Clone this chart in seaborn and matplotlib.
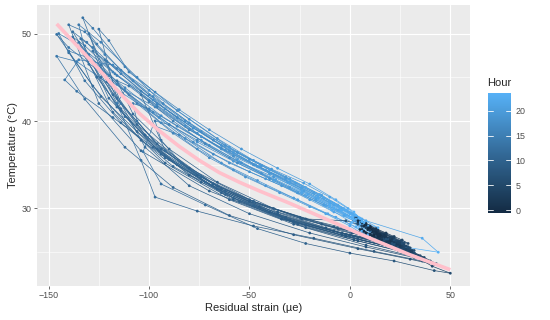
import numpy as np
import pandas as pd
import matplotlib
matplotlib.use("Agg")
import matplotlib.pyplot as plt
import seaborn as sns
from matplotlib.collections import LineCollection
from matplotlib.colors import LinearSegmentedColormap, Normalize
from matplotlib.cm import ScalarMappable

# hourly readings, one list per day (strain in µe, temperature in °C)
hours = list(range(24))

day1_strain = [6, 10, 14, 18, 22, 25, 27, 17, -12, -45, -76, -102, -121, -133, -128, -112, -93, -74, -56, -39, -23, -10, -1, 4]
day1_temp = [28.4, 27.9, 27.4, 27.0, 26.6, 26.2, 26.0, 26.4, 27.8, 30.2, 33.8, 38.4, 44.5, 51.8, 50.6, 46.2, 42.0, 38.8, 36.4, 34.5, 32.9, 31.3, 30.0, 29.0]

day2_strain = [2, 7, 12, 17, 21, 25, 28, 20, -8, -40, -74, -104, -128, -146, -140, -120, -98, -78, -60, -42, -26, -12, -2, 5]
day2_temp = [28.6, 28.0, 27.4, 26.9, 26.4, 26.0, 25.7, 26.1, 27.4, 29.6, 33.0, 37.8, 44.0, 49.9, 48.4, 44.8, 41.0, 37.6, 35.2, 33.4, 31.8, 30.3, 29.2, 28.4]

day3_strain = [12, 18, 24, 29, 34, 38, 42, 30, 4, -28, -60, -88, -112, -132, -146, -136, -116, -95, -76, -58, -40, -24, -10, 0]
day3_temp = [27.0, 26.2, 25.5, 24.9, 24.4, 24.0, 23.6, 24.2, 25.4, 27.0, 29.2, 32.4, 37.0, 42.5, 47.4, 46.8, 43.6, 40.4, 37.6, 35.4, 33.5, 31.8, 30.2, 29.0]

day4_strain = [3, 10, 17, 24, 31, 37, 43, 36, 12, -18, -48, -76, -97, -104, -116, -112, -97, -80, -62, -45, -30, -16, -5, 3]
day4_temp = [29.0, 27.9, 26.9, 26.0, 25.1, 24.4, 23.7, 24.0, 25.1, 26.6, 28.0, 29.7, 31.3, 35.5, 42.0, 43.5, 41.6, 39.0, 36.7, 34.8, 33.0, 31.4, 30.1, 29.0]

day5_strain = [8, 14, 21, 28, 35, 41, 50, 42, 22, 0, -22, -46, -72, -94, -103, -98, -85, -68, -50, -34, -20, -8, 2, 8]
day5_temp = [28.0, 27.0, 26.0, 25.0, 24.2, 23.4, 22.6, 22.9, 24.0, 24.9, 26.0, 27.7, 30.4, 32.8, 36.5, 39.5, 38.4, 36.2, 34.2, 32.6, 31.0, 29.6, 28.6, 27.8]

day6_strain = [10, 14, 18, 22, 25, 28, 30, 22, -2, -32, -62, -92, -118, -136, -142, -135, -118, -100, -80, -60, -40, -22, -8, 3]
day6_temp = [27.6, 27.1, 26.7, 26.3, 26.0, 25.7, 25.5, 25.9, 27.0, 29.0, 32.0, 36.0, 40.4, 43.4, 44.7, 47.0, 46.4, 43.5, 40.2, 37.0, 34.4, 32.4, 30.6, 29.2]

day7_strain = [6, 10, 14, 18, 22, 25, 27, 19, -6, -36, -66, -94, -116, -125, -120, -110, -97, -85, -70, -54, -36, -20, -7, 2]
day7_temp = [28.4, 28.0, 27.5, 27.1, 26.7, 26.3, 26.1, 26.5, 27.7, 29.6, 32.6, 36.8, 42.6, 50.5, 49.2, 45.6, 43.3, 41.3, 39.0, 36.8, 34.6, 32.8, 31.0, 29.6]

day8_strain = [3, 8, 13, 18, 22, 26, 29, 22, 0, -25, -48, -68, -84, -94, -97, -90, -76, -60, -44, -30, -17, -6, 3, 9]
day8_temp = [28.9, 28.3, 27.7, 27.2, 26.8, 26.4, 26.0, 26.4, 27.6, 29.0, 30.8, 32.8, 35.2, 37.8, 40.0, 39.6, 37.8, 35.8, 34.0, 32.4, 31.0, 29.8, 28.8, 28.0]

day9_strain = [9, 13, 17, 21, 24, 27, 29, 21, -4, -36, -68, -96, -118, -128, -121, -104, -86, -68, -50, -32, -14, 8, 36, 44]
day9_temp = [27.8, 27.3, 26.9, 26.5, 26.1, 25.8, 25.6, 26.0, 27.2, 29.4, 32.8, 37.4, 43.0, 48.0, 46.8, 43.4, 40.4, 37.8, 35.6, 33.6, 31.5, 28.6, 26.6, 25.0]

day10_strain = [16, 14, 12, 10, 8, 6, 4, -2, -22, -50, -80, -106, -126, -138, -132, -116, -96, -76, -58, -40, -24, -10, 0, 6]
day10_temp = [26.0, 26.8, 27.2, 27.5, 27.8, 28.0, 28.2, 28.6, 28.8, 30.8, 33.8, 38.8, 45.0, 49.6, 48.6, 45.2, 41.8, 38.6, 36.0, 34.0, 32.3, 30.7, 29.5, 28.5]

day11_strain = [4, 8, 12, 16, 20, 23, 26, 18, -8, -38, -66, -90, -108, -116, -110, -96, -80, -64, -48, -32, -18, -6, 2, 7]
day11_temp = [28.6, 28.1, 27.6, 27.1, 26.7, 26.3, 26.0, 26.5, 27.9, 30.0, 33.0, 36.8, 40.8, 44.6, 44.0, 41.6, 39.0, 36.9, 35.0, 33.4, 31.8, 30.4, 29.3, 28.4]

day12_strain = [10, 15, 20, 25, 30, 34, 37, 30, 8, -22, -55, -86, -112, -130, -135, -124, -106, -86, -66, -48, -30, -15, -3, 5]
day12_temp = [27.8, 27.0, 26.3, 25.7, 25.1, 24.6, 24.2, 24.6, 25.8, 27.8, 30.8, 35.0, 40.5, 46.5, 51.0, 49.0, 45.0, 41.2, 38.0, 35.5, 33.4, 31.6, 30.0, 28.9]

day13_strain = [5, 9, 13, 17, 21, 24, 26, 16, -14, -48, -80, -106, -124, -138, -131, -117, -100, -82, -64, -46, -30, -16, -4, 4]
day13_temp = [28.5, 28.0, 27.5, 27.1, 26.7, 26.3, 26.1, 26.6, 28.2, 30.8, 34.6, 39.6, 45.0, 50.2, 49.0, 45.4, 42.4, 39.4, 36.8, 34.8, 33.0, 31.2, 29.8, 28.8]

day14_strain = [4, 9, 14, 19, 23, 27, 30, 23, 0, -30, -62, -92, -114, -126, -120, -106, -88, -70, -52, -35, -20, -7, 3, 9]
day14_temp = [28.3, 27.6, 27.0, 26.5, 26.0, 25.6, 25.3, 25.7, 27.0, 28.7, 31.6, 35.8, 41.2, 46.2, 45.2, 42.0, 38.6, 35.8, 33.6, 31.8, 30.2, 29.0, 27.9, 27.0]

day15_strain = [11, 15, 19, 23, 26, 29, 31, 24, 2, -28, -58, -88, -114, -132, -140, -130, -112, -94, -74, -55, -37, -21, -8, 2]
day15_temp = [27.3, 26.8, 26.4, 26.0, 25.7, 25.4, 25.2, 25.6, 26.8, 28.5, 31.0, 34.8, 39.8, 44.6, 48.0, 47.2, 43.8, 40.6, 37.8, 35.3, 33.3, 31.6, 30.0, 28.8]

day16_strain = [7, 11, 15, 19, 23, 26, 29, 22, 1, -24, -50, -74, -94, -106, -108, -100, -86, -70, -54, -38, -23, -10, 0, 6]
day16_temp = [28.0, 27.5, 27.0, 26.6, 26.2, 25.9, 25.6, 26.0, 27.2, 28.8, 31.0, 33.6, 36.8, 40.0, 42.0, 41.4, 39.4, 37.2, 35.2, 33.6, 32.0, 30.6, 29.4, 28.4]

day17_strain = [9, 14, 19, 24, 28, 32, 35, 27, 4, -26, -58, -90, -114, -130, -126, -114, -98, -80, -62, -44, -27, -13, -2, 6]
day17_temp = [27.6, 26.9, 26.3, 25.8, 25.3, 24.9, 24.6, 25.0, 26.3, 28.2, 31.2, 35.6, 41.4, 50.0, 48.8, 45.8, 42.8, 39.8, 37.2, 34.9, 32.9, 31.2, 29.8, 28.7]

day18_strain = [6, 12, 18, 24, 30, 36, 40, 32, 8, -20, -50, -80, -102, -114, -122, -116, -100, -82, -64, -47, -31, -17, -5, 4]
day18_temp = [28.4, 27.4, 26.5, 25.7, 25.0, 24.4, 24.0, 24.4, 25.6, 27.2, 29.4, 32.6, 37.0, 42.0, 47.0, 46.0, 43.0, 40.0, 37.2, 35.0, 33.0, 31.2, 29.8, 28.6]

day19_strain = [10, 14, 18, 22, 26, 29, 32, 24, 0, -32, -66, -98, -124, -140, -145, -136, -118, -98, -78, -58, -40, -24, -10, 1]
day19_temp = [27.6, 27.1, 26.6, 26.2, 25.8, 25.5, 25.2, 25.6, 26.9, 28.9, 32.2, 37.0, 42.8, 47.8, 50.0, 48.8, 45.6, 42.4, 39.2, 36.4, 34.0, 32.0, 30.4, 29.0]

day20_strain = [6, 11, 16, 21, 25, 29, 32, 25, 4, -22, -48, -72, -92, -104, -100, -88, -72, -56, -40, -26, -13, -3, 5, 10]
day20_temp = [28.0, 27.3, 26.7, 26.1, 25.6, 25.2, 24.9, 25.3, 26.5, 28.1, 30.3, 33.0, 36.6, 43.0, 42.2, 40.0, 37.4, 35.2, 33.4, 31.8, 30.4, 29.2, 28.2, 27.4]

day21_strain = [5, 10, 15, 20, 24, 28, 31, 24, 2, -28, -60, -92, -118, -135, -130, -116, -100, -82, -64, -46, -28, -12, 0, 7]
day21_temp = [27.6, 27.0, 26.4, 25.9, 25.5, 25.1, 24.8, 25.2, 26.4, 28.2, 31.0, 35.2, 41.0, 49.0, 47.6, 44.2, 41.2, 38.0, 35.2, 33.2, 31.2, 29.4, 28.0, 27.0]

day22_strain = [8, 12, 16, 20, 24, 27, 30, 22, -2, -34, -70, -104, -125, -140, -132, -122, -108, -92, -74, -56, -38, -22, -9, 1]
day22_temp = [27.2, 26.8, 26.4, 26.0, 25.7, 25.4, 25.1, 25.5, 26.8, 28.8, 32.0, 36.6, 42.0, 51.0, 50.2, 47.6, 44.6, 41.4, 38.2, 35.6, 33.2, 31.4, 29.8, 28.4]

day23_strain = [6, 10, 14, 18, 22, 25, 28, 21, -4, -34, -64, -94, -116, -130, -124, -110, -94, -76, -58, -42, -26, -11, 0, 6]
day23_temp = [27.6, 27.1, 26.6, 26.2, 25.8, 25.5, 25.2, 25.6, 27.0, 28.8, 31.8, 36.2, 41.6, 47.2, 46.4, 43.0, 39.8, 36.8, 34.4, 32.6, 31.0, 29.4, 28.2, 27.4]

day24_strain = [7, 11, 15, 19, 23, 26, 29, 22, -2, -32, -64, -96, -120, -134, -128, -114, -96, -78, -60, -42, -24, -8, 6, 14]
day24_temp = [27.4, 26.9, 26.5, 26.1, 25.7, 25.4, 25.1, 25.5, 26.8, 28.8, 32.2, 36.8, 42.6, 49.4, 48.4, 45.4, 42.0, 39.2, 36.6, 34.4, 32.4, 30.4, 28.8, 27.8]

# pink smoother
smooth_strain = [-146, -135, -125, -115, -105, -95, -85, -75, -65, -55, -45, -30, -10, 10, 30, 50]
smooth_temp = [51.1, 48.4, 45.9, 43.3, 40.9, 38.9, 37.1, 35.5, 34.1, 33.0, 32.0, 30.6, 28.6, 26.6, 24.7, 23.0]

x_ticks = [-150, -100, -50, 0, 50]
y_ticks = [30, 40, 50]
hour_ticks = [0, 5, 10, 15, 20]

days = [
    (day1_strain, day1_temp), (day13_strain, day13_temp), (day21_strain, day21_temp),
    (day2_strain, day2_temp), (day14_strain, day14_temp), (day22_strain, day22_temp),
    (day3_strain, day3_temp), (day15_strain, day15_temp), (day4_strain, day4_temp),
    (day16_strain, day16_temp), (day23_strain, day23_temp), (day5_strain, day5_temp),
    (day17_strain, day17_temp), (day6_strain, day6_temp), (day18_strain, day18_temp),
    (day24_strain, day24_temp), (day7_strain, day7_temp), (day19_strain, day19_temp),
    (day8_strain, day8_temp), (day20_strain, day20_temp), (day9_strain, day9_temp),
    (day10_strain, day10_temp), (day11_strain, day11_temp), (day12_strain, day12_temp),
]
df = pd.concat(
    [pd.DataFrame({"strain": s, "temp": t, "hour": hours}) for s, t in days],
    ignore_index=True,
)

sns.set_theme(style="darkgrid", rc={"axes.facecolor": "#EBEBEB", "grid.color": "white"})
plt.rcParams["font.family"] = ["Liberation Sans", "DejaVu Sans"]

cmap = LinearSegmentedColormap.from_list("gg", ["#132B43", "#336A98", "#56B1F7"])
h_min, h_max = df["hour"].min(), df["hour"].max()
norm = Normalize(h_min, h_max)

fig = plt.figure(figsize=(5.5, 3.2), dpi=100)
ax = fig.add_axes([37 / 550, 1 - 286 / 320, 433 / 550, 281 / 320])

# path, coloured by the hour at the start of each segment
pts = df[["strain", "temp"]].to_numpy()
segs = np.stack([pts[:-1], pts[1:]], axis=1)
lc = LineCollection(segs, colors=cmap(norm(df["hour"].to_numpy()[:-1])), linewidths=0.5, zorder=2)
ax.add_collection(lc)

sns.scatterplot(data=df, x="strain", y="temp", hue="hour", palette=cmap, hue_norm=norm,
                s=4, linewidth=0, legend=False, ax=ax, zorder=3)

ax.plot(smooth_strain, smooth_temp, color="pink", lw=2.6, solid_capstyle="butt", zorder=4)

# ggplot-like 5% expansion
xr = df["strain"].max() - df["strain"].min()
yr = df["temp"].max() - df["temp"].min()
ax.set_xlim(df["strain"].min() - 0.05 * xr, df["strain"].max() + 0.05 * xr)
ax.set_ylim(df["temp"].min() - 0.05 * yr, df["temp"].max() + 0.05 * yr)

ax.set_xticks(x_ticks)
ax.set_yticks(y_ticks)
ax.set_xticks([-125, -75, -25, 25], minor=True)
ax.set_yticks([25, 35, 45], minor=True)
ax.grid(which="major", color="white", lw=0.85)
ax.grid(which="minor", color="white", lw=0.4)
ax.tick_params(which="major", length=2.2, width=0.5, color="#333333", labelsize=6.4,
               labelcolor="#4D4D4D", pad=1.5, bottom=True, left=True)
ax.tick_params(which="minor", length=0)
for sp in ax.spines.values():
    sp.set_visible(False)

ax.set_xlabel("Residual strain (µe)", fontsize=8, labelpad=2)
ax.set_ylabel("Temperature (°C)", fontsize=8, labelpad=3)

# colour bar legend
cax = fig.add_axes([488 / 550, 1 - 213 / 320, 23 / 550, 120 / 320])
pad = (h_max - h_min) / 38
sm = ScalarMappable(norm=Normalize(h_min - pad, h_max + pad), cmap=cmap)
cb = fig.colorbar(sm, cax=cax, ticks=hour_ticks)
cb.outline.set_visible(False)
cax.tick_params(length=0, labelsize=6.4, labelcolor="#4D4D4D", pad=3)
tr = cax.get_yaxis_transform()
for h in hour_ticks:
    cax.plot([0, 0.2], [h, h], color="white", lw=0.6, transform=tr)
    cax.plot([0.8, 1], [h, h], color="white", lw=0.6, transform=tr)
fig.text(487 / 550, 1 - 88 / 320, "Hour", fontsize=8, ha="left", va="bottom")

fig.savefig("out.png", dpi=100)
